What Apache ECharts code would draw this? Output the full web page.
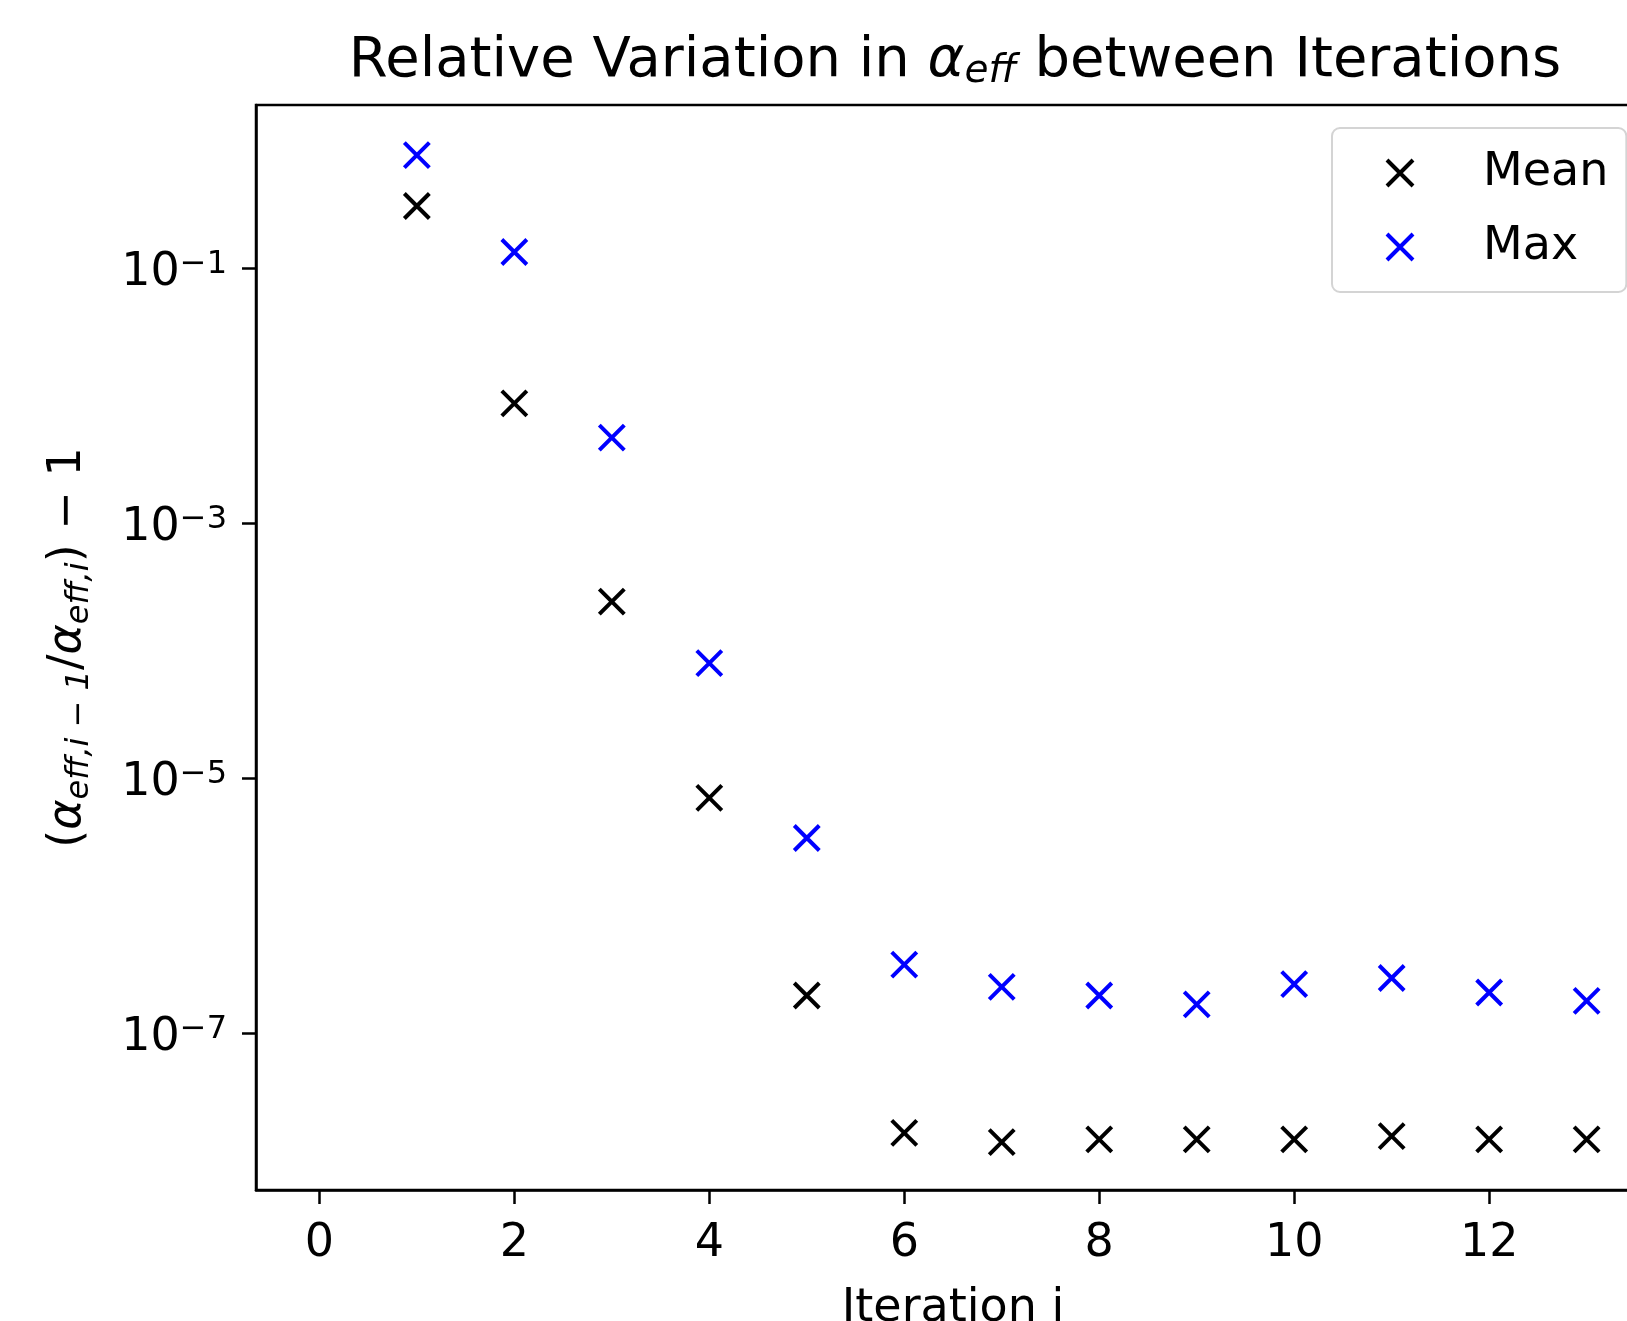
<!DOCTYPE html>
<html>
<head>
<meta charset="utf-8">
<script src="https://cdn.jsdelivr.net/npm/echarts@6/dist/echarts.min.js"></script>
<style>
  html, body { margin: 0; padding: 0; background: #ffffff; }
  #chart { width: 1627px; height: 1321px; }
</style>
</head>
<body>
<div id="chart"></div>
<script>
// iteration index on the x axis
const iterations = [1, 2, 3, 4, 5, 6, 7, 8, 9, 10, 11, 12, 13];
// mean relative variation per iteration
const meanValues = [0.305, 8.65e-3, 2.41e-4, 6.95e-6, 1.96e-7, 1.64e-8, 1.39e-8, 1.46e-8, 1.46e-8, 1.46e-8, 1.55e-8, 1.46e-8, 1.46e-8];
// max relative variation per iteration
const maxValues = [0.764, 0.133, 4.66e-3, 7.94e-5, 3.37e-6, 3.43e-7, 2.29e-7, 1.96e-7, 1.67e-7, 2.41e-7, 2.69e-7, 2.07e-7, 1.78e-7];
// tick labels
const xTicks = [0, 2, 4, 6, 8, 10, 12];
const yTicks = [1e-1, 1e-3, 1e-5, 1e-7];

const FONT = 'DejaVu Sans';
const crossPath = 'path://M0,0L10,10M10,0L0,10';

const chart = echarts.init(document.getElementById('chart'));

chart.setOption({
  backgroundColor: '#ffffff',
  animation: false,
  title: {
    text: '{n|Relative Variation in }{a|α}{s|eff}{n| between Iterations}',
    left: 955,
    top: 31,
    textAlign: 'center',
    padding: 0,
    textStyle: {
      fontWeight: 'normal',
      rich: {
        n: { fontFamily: FONT, fontSize: 56, fontWeight: 'normal', color: '#000', lineHeight: 60 },
        a: { fontFamily: FONT, fontSize: 56, fontWeight: 'normal', fontStyle: 'italic', color: '#000', lineHeight: 60 },
        s: { fontFamily: FONT, fontSize: 39, fontWeight: 'normal', fontStyle: 'italic', color: '#000', lineHeight: 44, verticalAlign: 'bottom' }
      }
    }
  },
  legend: {
    orient: 'vertical',
    left: 1332,
    top: 128,
    padding: [17, 18, 17, 53],
    itemWidth: 48,
    itemHeight: 26,
    itemGap: 18,
    backgroundColor: '#ffffff',
    borderColor: '#d4d4d4',
    borderWidth: 2,
    borderRadius: 8,
    itemStyle: { borderWidth: 4, opacity: 1 },
    textStyle: { fontFamily: FONT, fontSize: 46, color: '#000', lineHeight: 56, padding: [0, 0, 0, 54] },
    data: ['Mean', 'Max']
  },
  grid: {
    left: 256,
    top: 105,
    right: -23,
    bottom: 131,
    show: true,
    borderColor: '#000',
    borderWidth: 2.5,
    containLabel: false,
    outerBoundsMode: 'none'
  },
  xAxis: {
    type: 'value',
    min: -0.65,
    max: 13.65,
    splitLine: { show: false },
    axisLine: { show: true, onZero: false, lineStyle: { color: '#000', width: 2.5 } },
    axisTick: { show: true, length: 14, customValues: xTicks, lineStyle: { color: '#000', width: 2.5 } },
    axisLabel: { customValues: xTicks, fontFamily: FONT, fontSize: 46, color: '#000', margin: 31 },
    name: 'Iteration i',
    nameLocation: 'middle',
    nameGap: 96,
    nameMoveOverlap: false,
    nameTextStyle: { fontFamily: FONT, fontSize: 46, color: '#000', lineHeight: 46 }
  },
  yAxis: {
    type: 'log',
    logBase: 10,
    min: 5.85e-9,
    max: 1.89,
    splitLine: { show: false },
    axisLine: { show: true, onZero: false, lineStyle: { color: '#000', width: 2.5 } },
    axisTick: { show: true, length: 14, customValues: yTicks, lineStyle: { color: '#000', width: 2.5 } },
    axisLabel: {
      customValues: yTicks,
      margin: 29,
      padding: [10, 0, 0, 0],
      formatter: function (v) {
        const e = Math.round(Math.log10(v));
        return '{b|10}{e|−' + Math.abs(e) + '}';
      },
      rich: {
        b: { fontFamily: FONT, fontSize: 46, color: '#000', lineHeight: 48 },
        e: { fontFamily: FONT, fontSize: 32, color: '#000', lineHeight: 28, verticalAlign: 'top' }
      }
    },
    name: '{t|(}{a|α}{s|eff,i − 1}{t|/}{a|α}{s|eff,i}{t|) − 1}',
    nameLocation: 'middle',
    nameRotate: 90,
    nameGap: 160,
    nameMoveOverlap: false,
    nameTextStyle: {
      rich: {
        t: { fontFamily: FONT, fontSize: 46, color: '#000', lineHeight: 56 },
        a: { fontFamily: FONT, fontSize: 46, fontStyle: 'italic', color: '#000', lineHeight: 56 },
        s: { fontFamily: FONT, fontSize: 32, fontStyle: 'italic', color: '#000', lineHeight: 36, verticalAlign: 'bottom' }
      }
    }
  },
  series: [
    {
      name: 'Mean',
      type: 'scatter',
      symbol: crossPath,
      symbolSize: 25,
      itemStyle: { color: '#000000', borderColor: '#000000', borderWidth: 4, opacity: 1 },
      emphasis: { disabled: true },
      data: iterations.map((it, k) => [it, meanValues[k]])
    },
    {
      name: 'Max',
      type: 'scatter',
      symbol: crossPath,
      symbolSize: 25,
      itemStyle: { color: '#0000ff', borderColor: '#0000ff', borderWidth: 4, opacity: 1 },
      emphasis: { disabled: true },
      data: iterations.map((it, k) => [it, maxValues[k]])
    }
  ]
});
</script>
</body>
</html>
